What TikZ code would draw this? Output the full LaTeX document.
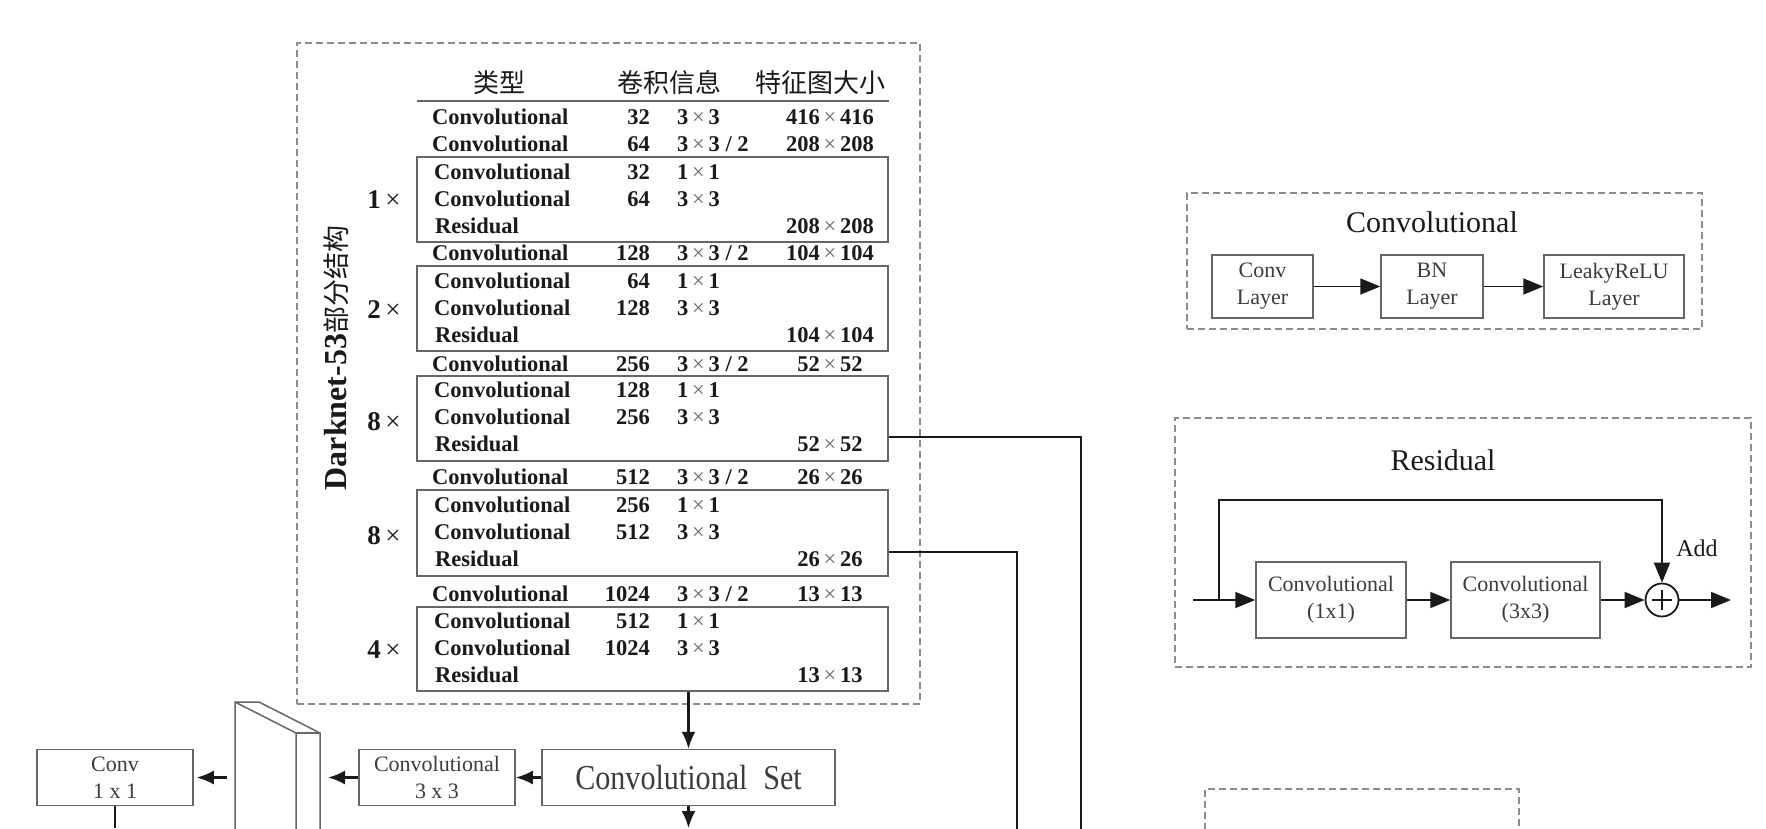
\documentclass[tikz,border=0pt]{standalone}
\usepackage{fontspec}
\setmainfont{Liberation Serif}
\newfontfamily\cjk{Noto Sans CJK SC}
\newfontfamily\condfont{Liberation Serif}[FakeStretch=0.86]
\usetikzlibrary{arrows.meta}
\definecolor{dashgray}{HTML}{8C8C8C}
\definecolor{boxgray}{HTML}{666666}
\definecolor{ink}{HTML}{1A1A1A}
\newcommand\tx{{\mdseries\color{black!60}\,×\,}}
% table rows
\newcommand\drow[5]{% idx, y, num, kernel, out
  \node[tname] (t#1) at (432,{#2+7.5}) {Convolutional};
  \node[tnum]  (n#1) at (650,{#2+7.5}) {#3};
  \node[tker]  (k#1) at (677,{#2+7.5}) {#4};
  \node[tout]  (o#1) at (830,{#2+7.5}) {#5};}
\newcommand\crow[4]{% idx, y, num, kernel
  \node[tname] (t#1) at (434,{#2+7.5}) {Convolutional};
  \node[tnum]  (n#1) at (650,{#2+7.5}) {#3};
  \node[tker]  (k#1) at (677,{#2+7.5}) {#4};}
\newcommand\rrow[3]{% idx, y, out
  \node[tname] (t#1) at (435,{#2+7.5}) {Residual};
  \node[tout]  (o#1) at (830,{#2+7.5}) {#3};}
\newcommand\tb[3]{% name, top, bottom
  \node[tbox, minimum height={(#3-#2)*1pt}] (#1) at (652.5,{(#2+#3)/2}) {};}
\begin{document}
\begin{tikzpicture}[x=1pt,y=-1pt,
  dbox/.style={draw=dashgray, line width=1.4pt, dash pattern=on 7pt off 4pt},
  tbox/.style={draw=boxgray, line width=1.6pt, minimum width=471pt, inner sep=0pt},
  tfont/.style={font=\fontsize{22.5}{22}\selectfont\bfseries, inner sep=0pt, text=ink},
  tname/.style={tfont, anchor=base west},
  tnum/.style={tfont, anchor=base east},
  tker/.style={tfont, anchor=base west},
  tout/.style={tfont, anchor=base},
  hdr/.style={font=\cjk\fontsize{26}{26}\selectfont, inner sep=0pt, text=ink},
  mult/.style={font=\fontsize{27}{27}\selectfont, inner sep=0pt, text=ink},
  pbox/.style={draw=boxgray, line width=1.5pt, align=center, inner sep=0pt,
    font=\fontsize{22}{27}\selectfont, text=ink!85},
  ttl/.style={font=\fontsize{30}{30}\selectfont, inner sep=0pt, text=ink},
  conn/.style={draw=ink, line width=2.2pt},
  arr/.style={draw=ink, line width=1.6pt, -{Triangle[length=20pt,width=16pt]}},
  arrb/.style={conn, -{Latex[length=17pt,width=14pt]}},
  slab/.style={draw=boxgray, line width=1.5pt}
]
\useasboundingbox (0,0) rectangle (1766,828);
\fill[white] (0,0) rectangle (1766,828);

% ---------------- Darknet-53 table ----------------
\node[dbox, minimum width=623pt, minimum height=661pt, inner sep=0pt] (dk) at (608.5,373.5) {};
\node[rotate=90, inner sep=0pt, text=ink] (lbl) at (336,358)
  {{\bfseries\fontsize{32}{32}\selectfont Darknet-53}{\cjk\fontsize{27}{27}\selectfont 部分结构}};

\node[hdr] (h1) at (499,83) {类型};
\node[hdr] (h2) at (669,83) {卷积信息};
\node[hdr] (h3) at (820,83) {特征图大小};
\coordinate (hl) at (417,101);
\coordinate (hr) at (889,101);
\draw[boxgray, line width=1.6pt] (hl) -- (hr);

\tb{b1}{157}{242}
\tb{b2}{266}{351}
\tb{b3}{376}{461}
\tb{b4}{490}{576}
\tb{b5}{607}{691}

\drow{1}{117}{32}{3\tx3}{416\tx416}
\drow{2}{144}{64}{3\tx3 / 2}{208\tx208}
\crow{3}{172}{32}{1\tx1}
\crow{4}{199}{64}{3\tx3}
\rrow{5}{226}{208\tx208}
\drow{6}{253}{128}{3\tx3 / 2}{104\tx104}
\crow{7}{281}{64}{1\tx1}
\crow{8}{308}{128}{3\tx3}
\rrow{9}{335}{104\tx104}
\drow{10}{364}{256}{3\tx3 / 2}{52\tx52}
\crow{11}{390}{128}{1\tx1}
\crow{12}{417}{256}{3\tx3}
\rrow{13}{444}{52\tx52}
\drow{14}{477}{512}{3\tx3 / 2}{26\tx26}
\crow{15}{505}{256}{1\tx1}
\crow{16}{532}{512}{3\tx3}
\rrow{17}{559}{26\tx26}
\drow{18}{594}{1024}{3\tx3 / 2}{13\tx13}
\crow{19}{621}{512}{1\tx1}
\crow{20}{648}{1024}{3\tx3}
\rrow{21}{675}{13\tx13}

\node[mult] (m1) at (384,200) {\textbf{1}\,×};
\node[mult] (m2) at (384,310) {\textbf{2}\,×};
\node[mult] (m3) at (384,422) {\textbf{8}\,×};
\node[mult] (m4) at (384,536) {\textbf{8}\,×};
\node[mult] (m5) at (384,650) {\textbf{4}\,×};

% ---------------- Convolutional panel ----------------
\node[dbox, minimum width=515pt, minimum height=136pt, inner sep=0pt] (cp) at (1444.5,261) {};
\node[ttl] (cpt) at (1432,222) {Convolutional};
\node[pbox, minimum width=101pt, minimum height=63pt] (cl) at (1262.5,286.5) {Conv\\Layer};
\node[pbox, minimum width=102pt, minimum height=63pt] (bn) at (1432,286.5) {BN\\Layer};
\node[pbox, minimum width=140pt, minimum height=63pt] (lr) at (1614,286.5) {LeakyReLU\\Layer};
\draw[arr] (cl.east) -- (bn.west);
\draw[arr] (bn.east) -- (lr.west);

% ---------------- Residual panel ----------------
\node[dbox, minimum width=576pt, minimum height=249pt, inner sep=0pt] (rp) at (1463,542.5) {};
\node[ttl] (rpt) at (1443,460) {Residual};
\node[pbox, minimum width=150pt, minimum height=76pt] (r1) at (1331,600) {Convolutional\\(1x1)};
\node[pbox, minimum width=149pt, minimum height=76pt] (r2) at (1525.5,600) {Convolutional\\(3x3)};
\node[draw=ink, line width=1.8pt, circle, minimum size=33pt, inner sep=0pt] (add) at (1662,600) {};
\draw[ink, line width=1.6pt] ([xshift=-10pt]add.center) -- ([xshift=10pt]add.center)
  ([yshift=-10pt]add.center) -- ([yshift=10pt]add.center);
\node[font=\fontsize{24}{24}\selectfont, inner sep=0pt, text=ink] (addl) at (1697,548) {Add};
\coordinate (rin) at (1193,600);
\coordinate (rsk) at (1219,600);
\coordinate (rtop) at (1219,500);
\coordinate (rout) at (1731,600);
\draw[arr] (rin) -- (r1.west);
\draw[arr] (rsk) -- (rtop) -- (rtop -| add.north) -- (add.north);
\draw[arr] (r1.east) -- (r2.west);
\draw[arr] (r2.east) -- (add.west);
\draw[arr] (add.east) -- (rout);

% ---------------- bottom-right partial panel ----------------
\coordinate (q1) at (1205,830);
\coordinate (q2) at (1205,789);
\coordinate (q3) at (1519,789);
\coordinate (q4) at (1519,830);
\draw[dbox] (q1) -- (q2) -- (q3) -- (q4);

% ---------------- bottom-left chain ----------------
\node[pbox, minimum width=293pt, minimum height=56pt,
  font=\condfont\fontsize{35}{35}\selectfont] (cs) at (688.5,777.5) {Convolutional\hspace{0.45em}Set};
\node[pbox, minimum width=156pt, minimum height=56pt] (c33) at (437,777.5) {Convolutional\\3 x 3};
\node[pbox, minimum width=156pt, minimum height=56pt] (c11) at (115,777.5) {Conv\\1 x 1};

% slab (3-D feature map)
\coordinate (sA) at (235,702);
\coordinate (sB) at (259,702);
\coordinate (sC) at (320,733);
\coordinate (sD) at (296,733);
\coordinate (sAb) at (235,830);
\coordinate (sDb) at (296,830);
\coordinate (sCb) at (320,830);
\draw[slab] (sAb) -- (sA) -- (sB) -- (sC) -- (sCb);
\draw[slab] (sA) -- (sD) -- (sDb);
\draw[slab] (sD) -- (sC);

\coordinate (bot) at (0,828);
\draw[arrb] (cs.north |- b5.south) -- (cs.north);
\draw[arrb] (cs.south) -- (cs.south |- bot);
\draw[arrb] (cs.west) -- (c33.east);
\draw[arrb, shorten >=8pt] (c33.west) -- (c33.west -| sC);
\draw[arrb, shorten <=8pt, shorten >=3pt] (c33.west -| sA) -- (c11.east);
\draw[conn] (c11.south) -- (c11.south |- bot);

% ---------------- skip connections ----------------
\coordinate (e1) at (1081,830);
\coordinate (e2) at (1017,830);
\draw[conn] (b3.east |- o13) ++(0,-7.5) coordinate (s1) -- (s1 -| e1) -- (e1);
\draw[conn] (b4.east |- o17) ++(0,-7.5) coordinate (s2) -- (s2 -| e2) -- (e2);
\end{tikzpicture}
\end{document}
